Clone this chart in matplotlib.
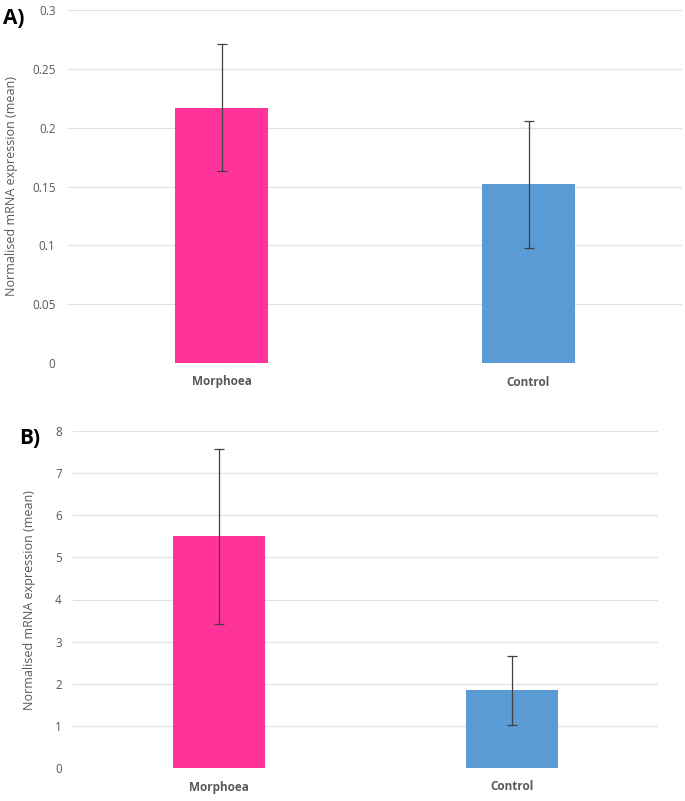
import matplotlib
matplotlib.use("Agg")
import matplotlib.pyplot as plt

categories = ["Morphoea", "Control"]
a_means = [0.217, 0.152]
a_err = [0.054, 0.054]
b_means = [5.50, 1.85]
b_err = [2.07, 0.82]
a_ticks = [0, 0.05, 0.1, 0.15, 0.2, 0.25, 0.3]
a_ticklabels = ["0", "0.05", "0.1", "0.15", "0.2", "0.25", "0.3"]
b_ticks = [0, 1, 2, 3, 4, 5, 6, 7, 8]
colors = ["#FF3399", "#5B9BD5"]
ylabel = "Normalised mRNA expression (mean)"

plt.rcParams['font.family'] = ['Open Sans', 'DejaVu Sans']

fig = plt.figure(figsize=(6.85, 8.01), dpi=100)
W, H = 685, 801

def make_ax(l, r, t, b):
    return fig.add_axes([l / W, 1 - b / H, (r - l) / W, (b - t) / H])

axA = make_ax(68, 682, 10, 363)
axB = make_ax(73, 658, 431, 768)

def style(ax, means, errs, ticks, ticklabels, ymax, width, pad):
    x = range(len(categories))
    ax.bar(x, means, width=width, color=colors, zorder=2)
    ax.errorbar(x, means, yerr=errs, fmt='none', ecolor='#404040',
                elinewidth=0.9, capsize=3.5, capthick=0.9, zorder=3)
    ax.set_xlim(-0.5, len(categories) - 0.5)
    ax.set_ylim(0, ymax)
    ax.set_yticks(ticks)
    ax.set_yticklabels(ticklabels, fontsize=8.5, color='#595959')
    ax.set_xticks(list(x))
    ax.set_xticklabels(categories, fontsize=8.5, fontweight='bold', color='#595959')
    ax.tick_params(axis='both', length=0)
    ax.tick_params(axis='y', pad=pad)
    ax.tick_params(axis='x', pad=9)
    for s in ax.spines.values():
        s.set_visible(False)
    ax.grid(axis='y', color='#E2E2E2', linewidth=0.9, zorder=0)
    ax.set_axisbelow(True)

style(axA, a_means, a_err, a_ticks, a_ticklabels, 0.3, 0.306, 9)
style(axB, b_means, b_err, b_ticks, [str(t) for t in b_ticks], 8, 0.315, 8)

fig.text(12 / W, 1 - 186 / H, ylabel, rotation=90, ha='center', va='center',
         fontsize=9, color='#595959')
fig.text(30 / W, 1 - 600 / H, ylabel, rotation=90, ha='center', va='center',
         fontsize=9, color='#595959')
fig.text(3 / W, 1 - 18 / H, "A)", fontsize=15, fontweight='bold', ha='left', va='center',
         color='black')
fig.text(19 / W, 1 - 438 / H, "B)", fontsize=15, fontweight='bold', ha='left', va='center',
         color='black')

fig.savefig("out.png", dpi=100)
